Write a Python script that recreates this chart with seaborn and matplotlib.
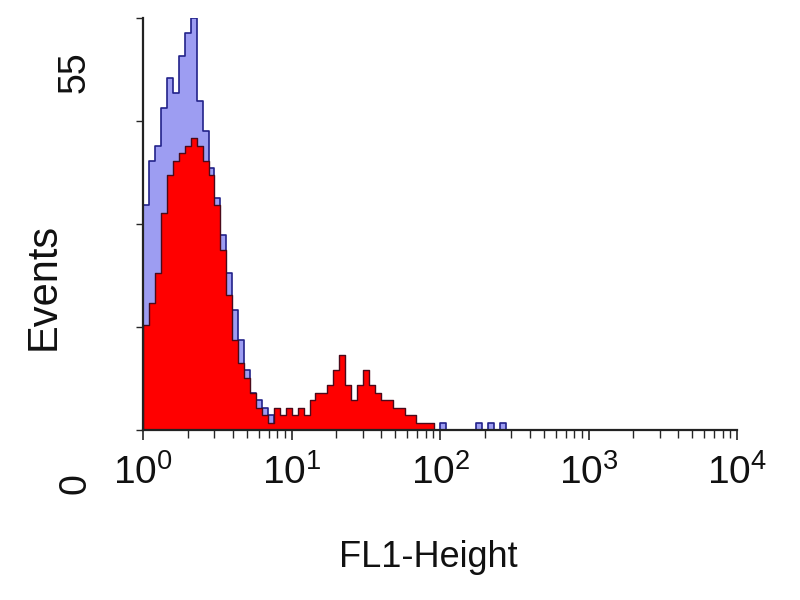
import numpy as np
import pandas as pd
import matplotlib
matplotlib.use("Agg")
import matplotlib.pyplot as plt
import seaborn as sns

# FL1 channels in log decades (bin width 0.04 decade), counts
bin_width = 0.04
control_counts = [30, 36, 38, 43, 47, 45, 50, 53, 55, 44, 40, 35, 31, 26, 21, 16,
                  12, 8, 5, 4, 3, 2, 1, 1, 1, 0, 0, 0, 0, 0, 0, 0,
                  0, 0, 0, 0, 0, 0, 0, 0, 0, 0, 0, 0, 0, 0, 0, 0,
                  0, 0, 1, 0, 0, 0, 0, 0, 1, 0, 1, 0, 1, 0]
sample_counts = [14, 17, 21, 29, 34, 36, 37, 38, 39, 38, 36, 34, 30, 24, 18, 12,
                 9, 7, 5, 3, 2, 1, 3, 2, 3, 2, 3, 2, 4, 5, 5, 6,
                 8, 10, 6, 4, 6, 8, 6, 5, 4, 4, 3, 3, 2, 2, 1, 1,
                 1, 0, 0, 0, 0, 0, 0, 0, 0, 0, 0, 0, 0, 0]
decade_labels = [r"$\mathregular{10^{%d}}$" % k for k in range(5)]
y_max = 55

n_bins = len(sample_counts)
edges = list(np.arange(n_bins + 1) * bin_width)
centers = np.arange(n_bins) * bin_width + bin_width / 2
df = pd.DataFrame({"fl1": centers, "control": control_counts,
                   "sample": sample_counts})

sns.set_style("white")
plt.rcParams["font.family"] = ["Liberation Sans", "DejaVu Sans"]

fig = plt.figure(figsize=(8, 6), dpi=100)
ax = fig.add_axes([0.179, 0.283, 0.7425, 0.6867])

# isotype control behind, stained sample on top
sns.histplot(data=df, x="fl1", weights="control", bins=edges, element="step",
             fill=True, color="#8c8cf0", alpha=0.85, edgecolor="#22228a",
             linewidth=1.2, ax=ax)
sns.histplot(data=df, x="fl1", weights="sample", bins=edges, element="step",
             fill=True, color="#ff0000", alpha=1.0, edgecolor="#4a0a1a",
             linewidth=1.0, ax=ax)

ax.set_xlim(0, 4)
ax.set_ylim(0, y_max)
sns.despine(ax=ax)
for side in ["left", "bottom"]:
    ax.spines[side].set_color("#222222")
    ax.spines[side].set_linewidth(1.6)

ax.set_xticks(range(5))
ax.set_xticklabels(decade_labels, fontsize=28, color="#111111")
minor = [d + np.log10(k) for d in range(4) for k in range(2, 10)]
ax.set_xticks(minor, minor=True)
ax.tick_params(axis="x", which="major", direction="out", length=7, width=1.2,
               pad=10, bottom=True)
ax.tick_params(axis="x", which="minor", direction="out", length=6, width=1.0,
               bottom=True)
ax.set_yticks([0, 13.75, 27.5, 41.25, 55])
ax.set_yticklabels([])
ax.tick_params(axis="y", direction="out", length=5, width=1.0, left=True)

ax.set_xlabel("")
ax.set_ylabel("")
ax.text(0.48, -0.308, "FL1-Height", transform=ax.transAxes, fontsize=26,
        ha="center", va="center", color="#111111")
ax.text(-0.168, 0.35, "Events", transform=ax.transAxes, fontsize=30,
        rotation=90, ha="center", va="center", color="#111111")
ax.text(-0.116, 0.869, "55", transform=ax.transAxes, fontsize=27,
        rotation=90, ha="center", va="center", color="#111111")
ax.text(-0.114, -0.129, "0", transform=ax.transAxes, fontsize=27,
        rotation=90, ha="center", va="center", color="#111111")

fig.savefig("out.png", dpi=100)
